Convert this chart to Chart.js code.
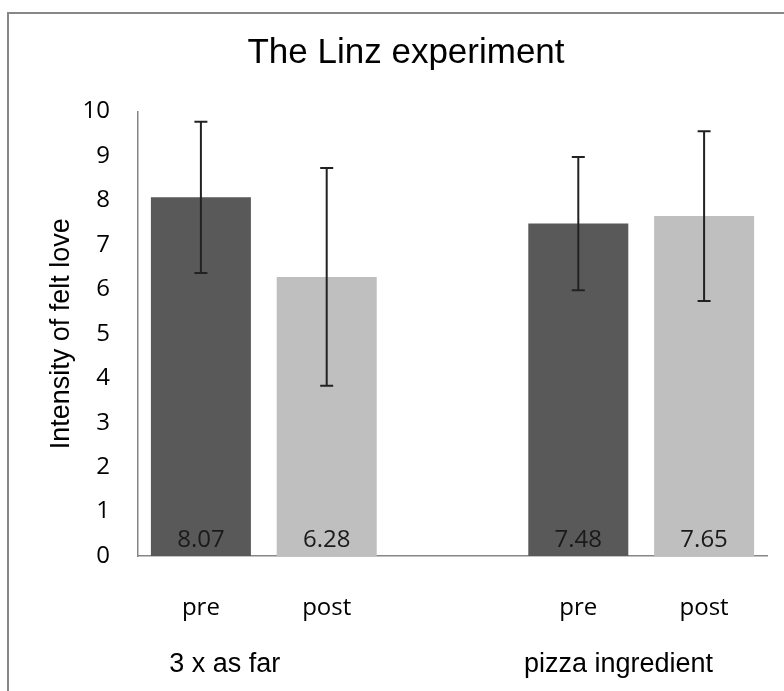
<!DOCTYPE html>
<html>
<head>
<meta charset="utf-8">
<script src="https://cdn.jsdelivr.net/npm/chart.js@4.4.1/dist/chart.umd.min.js"></script>
<style>
  html, body { margin: 0; padding: 0; background: #fff; }
</style>
</head>
<body>
<canvas id="linzChart" width="784" height="691"></canvas>
<script>
const categories = ["pre", "post", "", "pre", "post"];
const groupLabels = ["3 x as far", "pizza ingredient"];
const means = [8.07, 6.28, null, 7.48, 7.65];
const errors = [1.70, 2.45, null, 1.50, 1.91];
const barColors = ["#595959", "#bfbfbf", "#ffffff", "#595959", "#bfbfbf"];
const yTicks = [0, 1, 2, 3, 4, 5, 6, 7, 8, 9, 10];

// white background + the cropped outer frame
const framePlugin = {
  id: "frame",
  beforeDraw(chart) {
    const c = chart.ctx;
    c.save();
    c.fillStyle = "#fff";
    c.fillRect(0, 0, chart.width, chart.height);
    c.strokeStyle = "#878787";
    c.lineWidth = 2;
    c.beginPath();
    c.moveTo(8, chart.height + 5);
    c.lineTo(8, 13);
    c.lineTo(chart.width + 5, 13);
    c.stroke();
    c.restore();
  }
};

const errorBarPlugin = {
  id: "errorBars",
  afterDatasetsDraw(chart) {
    const c = chart.ctx;
    const y = chart.scales.y;
    const meta = chart.getDatasetMeta(0);
    c.save();
    c.strokeStyle = "#222";
    c.lineWidth = 2;
    meta.data.forEach((bar, i) => {
      if (means[i] == null) return;
      const top = y.getPixelForValue(means[i] + errors[i]);
      const bot = y.getPixelForValue(means[i] - errors[i]);
      c.beginPath();
      c.moveTo(bar.x, top); c.lineTo(bar.x, bot);
      c.moveTo(bar.x - 6.5, top); c.lineTo(bar.x + 6.5, top);
      c.moveTo(bar.x - 6.5, bot); c.lineTo(bar.x + 6.5, bot);
      c.stroke();
    });
    c.restore();
  }
};

const valueLabelPlugin = {
  id: "valueLabels",
  afterDatasetsDraw(chart) {
    const c = chart.ctx;
    const y = chart.scales.y;
    const meta = chart.getDatasetMeta(0);
    c.save();
    c.font = "24px 'Open Sans'";
    c.fillStyle = "#1a1a1a";
    c.textAlign = "center";
    c.textBaseline = "alphabetic";
    meta.data.forEach((bar, i) => {
      if (means[i] == null) return;
      c.fillText(means[i].toFixed(2), bar.x, y.getPixelForValue(0) - 9);
    });
    c.restore();
  }
};

// second row of category labels
const groupLabelPlugin = {
  id: "groupLabels",
  afterDraw(chart, args, opts) {
    const c = chart.ctx;
    const x = chart.scales.x;
    const step = x.getPixelForValue(1) - x.getPixelForValue(0);
    c.save();
    c.font = "27px 'Liberation Sans'";
    c.fillStyle = "#000";
    c.textAlign = "center";
    c.textBaseline = "alphabetic";
    groupLabels.forEach((g, k) => {
      const px = x.getPixelForValue(opts.firstIndex[k]) + opts.shift[k] * step;
      c.fillText(g, px, x.top + opts.baseline);
    });
    c.restore();
  }
};

new Chart(document.getElementById("linzChart"), {
  type: "bar",
  data: {
    labels: categories,
    datasets: [{
      data: means,
      backgroundColor: barColors,
      borderWidth: 0,
      categoryPercentage: 1,
      barPercentage: 0.795
    }]
  },
  options: {
    responsive: false,
    animation: false,
    layout: { padding: { left: 45, right: 17, top: 0, bottom: 0 } },
    plugins: {
      legend: { display: false },
      tooltip: { enabled: false },
      title: {
        display: true,
        text: "The Linz experiment",
        color: "#000",
        font: { family: "'Liberation Sans'", size: 35, weight: "normal" },
        padding: { top: 32, bottom: 37.6 }
      },
      groupLabels: { firstIndex: [0, 3], shift: [0.19, 0.32], baseline: 116 }
    },
    scales: {
      x: {
        grid: { display: false, drawTicks: false },
        border: { display: true, color: "#868686", width: 1.5 },
        ticks: {
          color: "#000",
          padding: 38,
          font: { family: "'Open Sans'", size: 24 }
        },
        afterFit(s) { s.height = 135; }
      },
      y: {
        min: 0,
        max: 10,
        grid: { display: false, drawTicks: false },
        border: { display: true, color: "#868686", width: 1.5 },
        afterBuildTicks(s) { s.ticks = yTicks.map(v => ({ value: v })); },
        ticks: {
          color: "#000",
          padding: 28,
          font: { family: "'Open Sans'", size: 24 }
        },
        title: {
          display: true,
          text: "Intensity of felt love",
          color: "#000",
          padding: 0,
          font: { family: "'Liberation Sans'", size: 27 }
        },
        afterFit(s) { s.width = 93; }
      }
    }
  },
  plugins: [framePlugin, errorBarPlugin, valueLabelPlugin, groupLabelPlugin]
});
</script>
</body>
</html>
